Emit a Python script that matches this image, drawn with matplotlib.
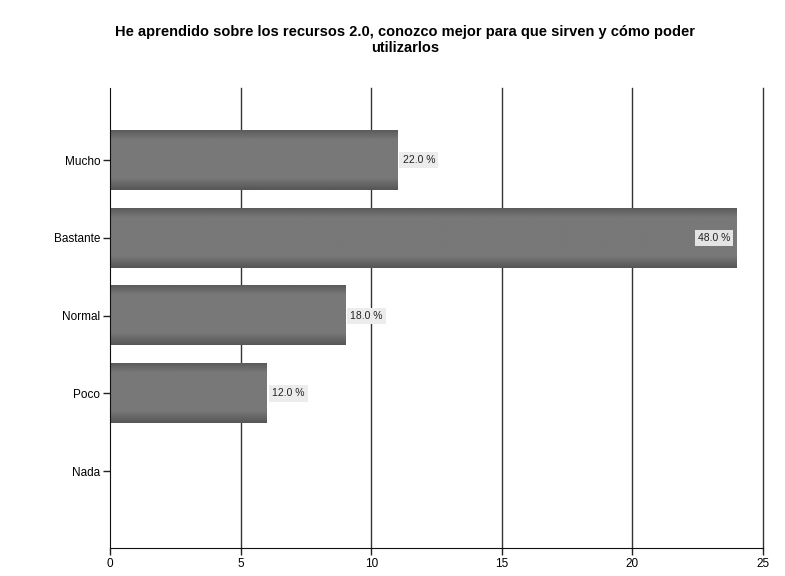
import numpy as np
import matplotlib
matplotlib.use("Agg")
import matplotlib.pyplot as plt

plt.rcParams['font.family'] = ['Liberation Sans Narrow', 'Liberation Sans', 'DejaVu Sans']

categories = ["Mucho", "Bastante", "Normal", "Poco", "Nada"]
counts = [11, 24, 9, 6, 0]
pct_labels = ["22.0 %", "48.0 %", "18.0 %", "12.0 %", ""]
x_ticks = [0, 5, 10, 15, 20, 25]

title = "He aprendido sobre los recursos 2.0, conozco mejor para que sirven y cómo poder\nutilizarlos"

fig = plt.figure(figsize=(7.85, 5.76), dpi=100)
ax = fig.add_axes([0.1401, 0.0486, 0.8319, 0.7986])

ypos = np.arange(len(categories))
bar_h = 0.76

# vertical shading for each bar: darker edges, lighter middle
shade = np.concatenate([np.linspace(0.36, 0.47, 8), np.full(30, 0.47), np.linspace(0.47, 0.34, 10)])
grad = shade[:, None]

for y, v in zip(ypos, counts):
    if v <= 0:
        continue
    ax.barh(y, v, height=bar_h, color="#777777", edgecolor="none", zorder=2)
    ax.imshow(grad, cmap="gray", vmin=0, vmax=1, aspect="auto",
              extent=(0, v, y + bar_h / 2, y - bar_h / 2), zorder=3, interpolation="bilinear")

for y, v, lab in zip(ypos, counts, pct_labels):
    if not lab:
        continue
    if v > 22:
        ax.text(v - 0.25, y, lab, ha="right", va="center", fontsize=7.5, color="#222222", zorder=5,
                bbox=dict(boxstyle="square,pad=0.3", fc="#e4e4e4", ec="none"))
    else:
        ax.text(v + 0.2, y, lab, ha="left", va="center", fontsize=7.5, color="#222222", zorder=5,
                bbox=dict(boxstyle="square,pad=0.3", fc="#ececec", ec="none"))

ax.set_xlim(0, 25)
ax.set_ylim(4.99, -0.93)
ax.set_xticks(x_ticks)
ax.set_xticklabels([str(t) for t in x_ticks], fontsize=8.5)
ax.set_yticks(ypos)
ax.set_yticklabels(categories, fontsize=8.5)
ax.tick_params(axis="both", direction="out", length=5, width=1, color="#222222", pad=2)

for t in x_ticks[1:]:
    ax.axvline(t, color="#333333", lw=1, zorder=1, clip_on=False)

for s in ["top", "right"]:
    ax.spines[s].set_visible(False)
ax.spines["left"].set_color("#111111")
ax.spines["bottom"].set_color("#111111")
ax.spines["left"].set_zorder(4)

fig.text(0.516, 0.930, title, ha="center", va="center", fontsize=10.5, fontweight="bold",
         linespacing=1.15)

fig.savefig("out.png", dpi=100)
